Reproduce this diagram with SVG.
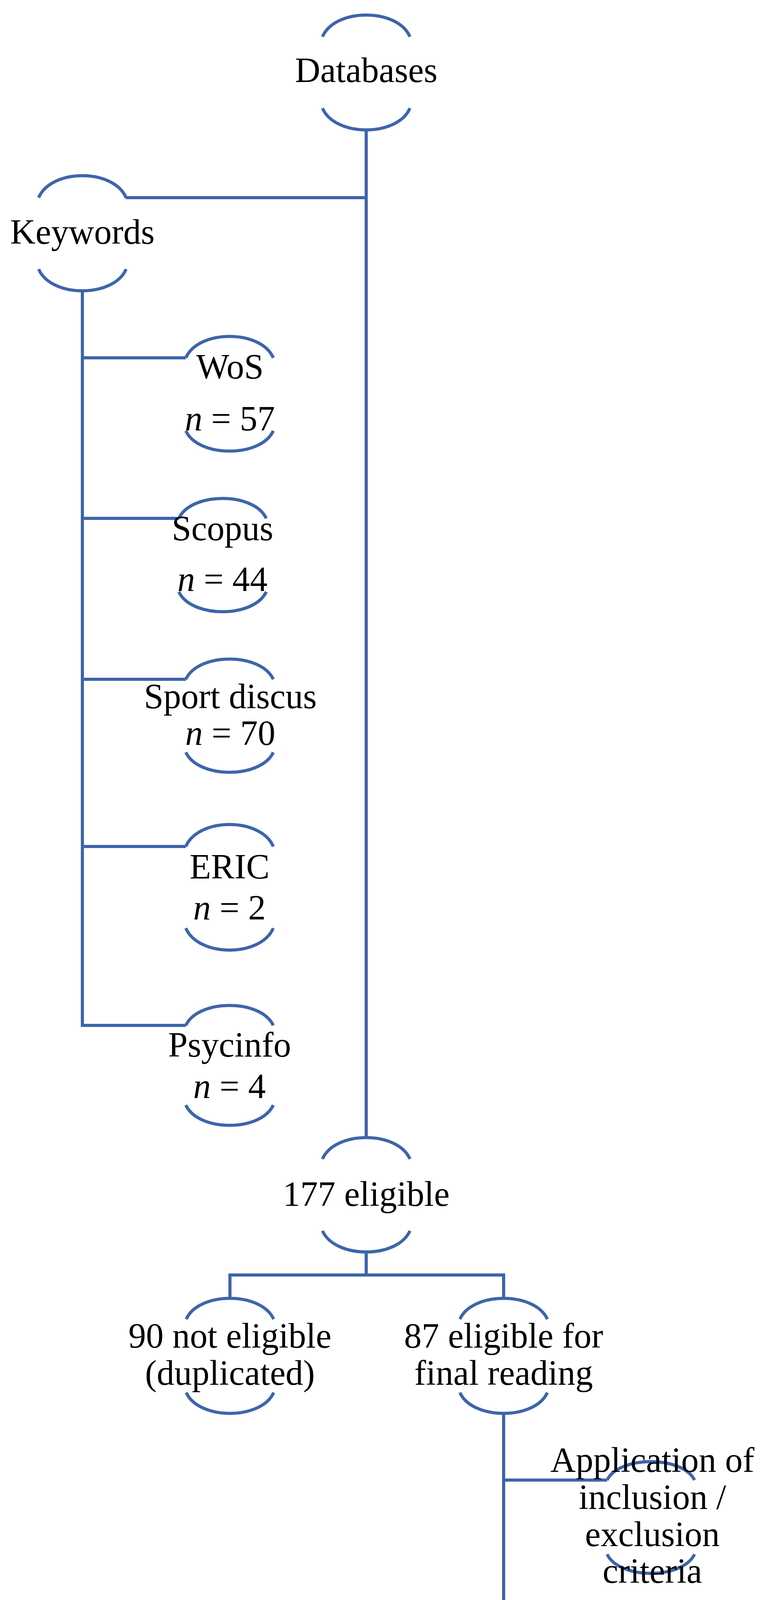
<svg xmlns="http://www.w3.org/2000/svg" width="1980" height="4888" viewBox="0 0 1980 4888">
<style>
.a{fill:none;stroke:#3d65aa;stroke-width:8}
.c{fill:none;stroke:#3d65aa;stroke-width:8}
text{font-family:"Liberation Serif","Times New Roman",serif;font-size:90px;fill:#000;text-anchor:middle}
.i{font-style:italic}
</style>
<rect width="1980" height="4888" fill="#fff"/>
<g id="connectors">
<path class="c" d="M938 332V2912M322 506H938M211 743V2625H476M211 916H476M211 1327H458M211 1739H476M211 2167H476M938 3205V3264M589 3324V3264H1290V3324M1290 3618V4613H1555M1290 3789H1555M1290 4200H1555"/>
</g>
<g id="databases"><path class="a" d="M826 94C858 20 1018 20 1050 94M826 277C858 351 1018 351 1050 277"/><text x="938" y="210">Databases</text></g>
<g id="keywords"><path class="a" d="M99 506C131 431 291 431 323 506M99 689C131 763 291 763 323 689"/><text x="211" y="624">Keywords</text></g>
<g id="wos"><path class="a" d="M476 916C508 843 668 843 700 916M476 1103C508 1172 668 1172 700 1103"/><text x="589" y="969">WoS</text><text x="589" y="1102"><tspan class="i">n</tspan> = 57</text></g>
<g id="scopus"><path class="a" d="M458 1327C490 1259 650 1259 682 1327M458 1515C490 1583 650 1583 682 1515"/><text x="570" y="1383">Scopus</text><text x="570" y="1513"><tspan class="i">n</tspan> = 44</text></g>
<g id="sport"><path class="a" d="M476 1739C508 1670 668 1670 700 1739M476 1926C508 1994 668 1994 700 1926"/><text x="590" y="1813">Sport discus</text><text x="590" y="1907"><tspan class="i">n</tspan> = 70</text></g>
<g id="eric"><path class="a" d="M476 2167C508 2092 668 2092 700 2167M476 2376C508 2451 668 2451 700 2376"/><text x="588" y="2249">ERIC</text><text x="588" y="2354"><tspan class="i">n</tspan> = 2</text></g>
<g id="psycinfo"><path class="a" d="M476 2625C508 2557 668 2557 700 2625M476 2829C508 2898 668 2898 700 2829"/><text x="588" y="2705">Psycinfo</text><text x="588" y="2811"><tspan class="i">n</tspan> = 4</text></g>
<g id="eligible"><path class="a" d="M826 2967C858 2894 1018 2894 1050 2967M826 3151C858 3223 1018 3223 1050 3151"/><text x="938" y="3087">177 eligible</text></g>
<g id="noteligible"><path class="a" d="M477 3377C509 3306 669 3306 701 3377M477 3565C509 3636 669 3636 701 3565"/><text x="589" y="3450">90 not eligible</text><text x="589" y="3545">(duplicated)</text></g>
<g id="final"><path class="a" d="M1178 3377C1210 3306 1370 3306 1402 3377M1178 3565C1210 3636 1370 3636 1402 3565"/><text x="1290" y="3450">87 eligible for</text><text x="1290" y="3545">final reading</text></g>
<g id="criteria"><path class="a" d="M1555 3789C1587 3726 1747 3726 1779 3789M1555 3979C1587 4044 1747 4044 1779 3979"/><text x="1671" y="3768">Application of</text><text x="1671" y="3863">inclusion /</text><text x="1671" y="3958">exclusion</text><text x="1671" y="4052">criteria</text></g>
<g id="eliminated"><path class="a" d="M1555 4200C1587 4135 1747 4135 1779 4200M1555 4391C1587 4457 1747 4457 1779 4391"/><text x="1667" y="4325">70 eliminated</text></g>
<g id="studies"><path class="a" d="M1555 4613C1587 4548 1747 4548 1779 4613M1555 4802C1587 4868 1747 4868 1779 4802"/><text x="1670" y="4734">17 final studies</text></g>
</svg>
